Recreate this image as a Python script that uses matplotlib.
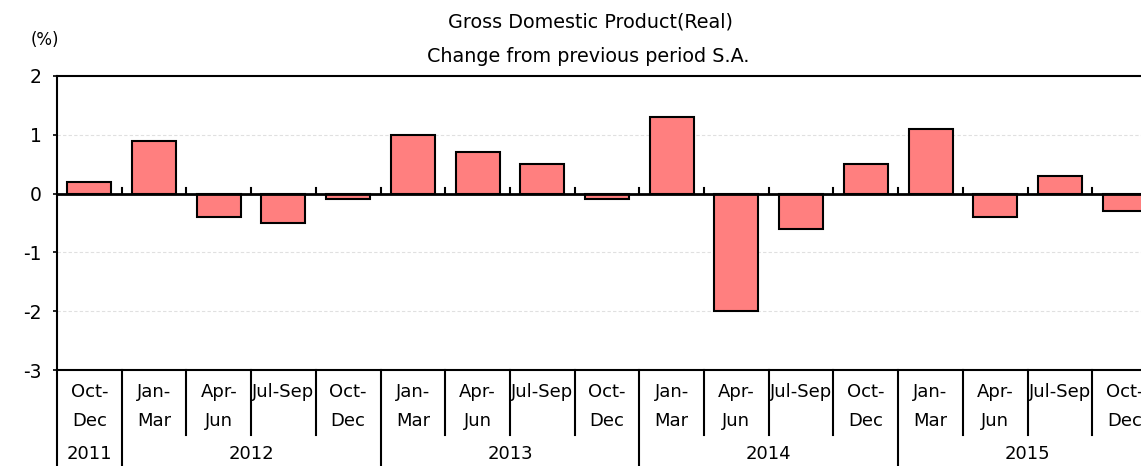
import matplotlib
matplotlib.use("Agg")
import matplotlib.pyplot as plt
import matplotlib.transforms as mtransforms

quarters_top = ["Oct-", "Jan-", "Apr-", "Jul-Sep", "Oct-", "Jan-", "Apr-", "Jul-Sep", "Oct-",
                "Jan-", "Apr-", "Jul-Sep", "Oct-", "Jan-", "Apr-", "Jul-Sep", "Oct-"]
quarters_bot = ["Dec", "Mar", "Jun", "", "Dec", "Mar", "Jun", "", "Dec",
                "Mar", "Jun", "", "Dec", "Mar", "Jun", "", "Dec"]
years = ["2011", "2012", "2013", "2014", "2015"]
year_counts = [1, 4, 4, 4, 4]
values = [0.2, 0.9, -0.4, -0.5, -0.1, 1.0, 0.7, 0.5, -0.1, 1.3, -2.0, -0.6, 0.5, 1.1, -0.4, 0.3, -0.3]

plt.rcParams['font.family'] = ['DejaVu Sans']
fig = plt.figure(figsize=(11.41, 4.66), dpi=100)
ax = fig.add_axes([57/1141, 96/466, 1100/1141, 294/466])

n = len(values)
x = list(range(n))
ax.bar(x, values, width=0.68, color="#FF7F7F", edgecolor="black", linewidth=1.5, zorder=3)
ax.set_xlim(-0.5, n - 0.5)
ax.set_ylim(-3, 2)
ax.set_yticks([-3, -2, -1, 0, 1, 2])
ax.set_yticklabels(["-3", "-2", "-1", "0", "1", "2"], fontsize=13.5)
ax.tick_params(axis='y', length=3, width=1.2, pad=8)
ax.set_xticks([])
for y in [-2, -1, 1]:
    ax.axhline(y, color="#e0e0e0", linewidth=0.8, linestyle=(0, (3, 2)), zorder=1)
ax.axhline(0, color="black", linewidth=2, zorder=4)
for spine in ax.spines.values():
    spine.set_linewidth(1.5)
    spine.set_color("black")

# small ticks on zero line at category boundaries
for b in range(1, n):
    ax.plot([b - 0.5, b - 0.5], [0, 0.09], color="black", linewidth=1.5, zorder=4)

trans = mtransforms.blended_transform_factory(ax.transData, ax.transAxes)
year_bounds = []
acc = 0
for c in year_counts:
    acc += c
    year_bounds.append(acc)
for b in range(0, n):
    xb = b - 0.5
    bottom = -0.33 if (b == 0 or b in year_bounds) else -0.221
    ax.plot([xb, xb], [0, bottom], color="black", linewidth=1.5, transform=trans, clip_on=False)

for i in range(n):
    ax.text(i, -0.075, quarters_top[i], transform=trans, ha="center", va="center", fontsize=13)
    if quarters_bot[i]:
        ax.text(i, -0.172, quarters_bot[i], transform=trans, ha="center", va="center", fontsize=13)

start = 0
for yname, c in zip(years, year_counts):
    center = start + (c - 1) / 2
    ax.text(center, -0.286, yname, transform=trans, ha="center", va="center", fontsize=13)
    start += c

fig.text(590/1141, 1 - 22/466, "Gross Domestic Product(Real)", ha="center", va="center", fontsize=13.8)
fig.text(588/1141, 1 - 57/466, "Change from previous period S.A.", ha="center", va="center", fontsize=13.8)
fig.text(45/1141, 1 - 40/466, "(%)", ha="center", va="center", fontsize=12)

fig.savefig("out.png", dpi=100)
